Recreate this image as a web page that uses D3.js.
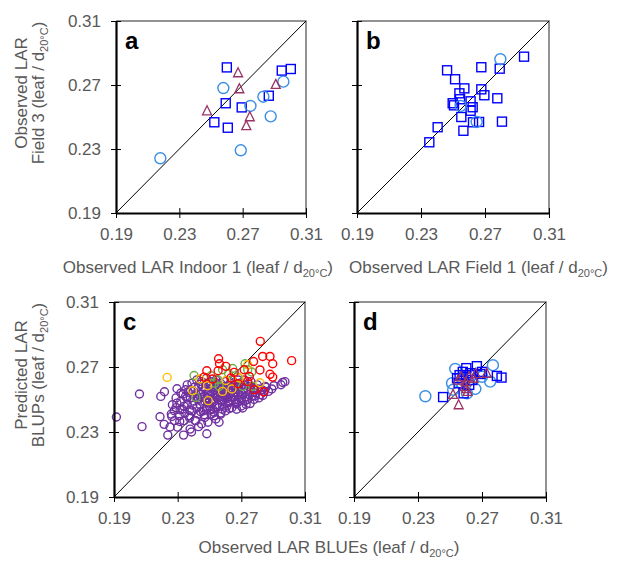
<!DOCTYPE html>
<html>
<head>
<meta charset="utf-8">
<script src="https://cdn.jsdelivr.net/npm/d3@7"></script>
<style>
  body { margin: 0; background: #fff; }
  svg { display: block; font-family: "Liberation Sans", Arial, sans-serif; }
</style>
</head>
<body>
<div id="chart"></div>
<script>
// valeurs : [x, y]
const tickValues = [0.19, 0.23, 0.27, 0.31];
const tickLabels = ["0.19", "0.23", "0.27", "0.31"];

// panneau a : Indoor 1 vs Field 3
const aSquares = [[0.260,0.281],[0.2947,0.279],[0.3004,0.280],[0.2593,0.2586],[0.2521,0.2467],[0.2606,0.2433],[0.2694,0.256],[0.2865,0.2633]];
const aCircles = [[0.2578,0.2681],[0.2957,0.2721],[0.2831,0.2627],[0.2749,0.2569],[0.2877,0.2504],[0.2688,0.2292],[0.218,0.2242]];
const aTriangles = [[0.2671,0.2777],[0.2679,0.2677],[0.2909,0.2704],[0.2475,0.2539],[0.2745,0.2502],[0.2723,0.2446]];

// panneau b : Field 1 vs Field 3
const bSquares = [[0.2463,0.2792],[0.2513,0.2736],[0.2677,0.2811],[0.2792,0.2802],[0.2944,0.2877],[0.2571,0.2679],[0.2540,0.2648],[0.2677,0.2673],[0.2696,0.2636],[0.2777,0.2617],[0.2544,0.2611],[0.2498,0.2586],[0.2506,0.2573],[0.2610,0.2598],[0.2623,0.2561],[0.2610,0.2539],[0.2552,0.2500],[0.2625,0.2467],[0.2663,0.2469],[0.2806,0.2471],[0.2404,0.2436],[0.2565,0.2414],[0.2352,0.2342]];
const bCircles = [[0.2796,0.2861],[0.2548,0.2569],[0.2648,0.2469]];

// panneau c : BLUEs vs BLUPs
const cPurple = [
  [0.1915,0.2392],[0.206,0.2534],[0.2076,0.2333],[0.2189,0.2394],[0.2194,0.2519],[0.2217,0.2548],[0.2215,0.2347],[0.2238,0.2281],
  [0.2252,0.2331],[0.2263,0.2396],[0.2278,0.2431],[0.2296,0.2566],[0.2313,0.2365],[0.2337,0.2281],[0.2378,0.2318],[0.2387,0.2300],
  [0.2431,0.2333],[0.2483,0.2289],[0.2375,0.2386],[0.2414,0.2370],[0.2315,0.2437],[0.2340,0.2458],[0.2295,0.2478],[0.2267,0.2468],
  [0.2334,0.2534],[0.2358,0.2509],[0.2960,0.2605],[0.2974,0.2610],[0.2949,0.2591],[0.2891,0.2565],[0.2844,0.2550],[0.2787,0.2523],
  [0.2708,0.2448],[0.2670,0.2472],[0.2529,0.2400],[0.2571,0.2417],[0.2466,0.2406],
  [0.238,0.256],[0.241,0.252],[0.243,0.258],[0.245,0.249],[0.246,0.255],[0.248,0.260],[0.249,0.251],[0.250,0.246],
  [0.251,0.257],[0.252,0.253],[0.253,0.249],[0.254,0.259],[0.255,0.254],[0.256,0.250],[0.257,0.256],[0.258,0.247],
  [0.259,0.253],[0.260,0.258],[0.261,0.251],[0.262,0.255],[0.263,0.249],[0.264,0.257],[0.265,0.252],[0.266,0.254],
  [0.267,0.248],[0.268,0.256],[0.269,0.251],[0.270,0.258],[0.271,0.253],[0.272,0.249],[0.273,0.255],[0.274,0.250],
  [0.276,0.256],[0.277,0.252],[0.279,0.254],[0.281,0.251],[0.244,0.253],[0.247,0.252],[0.250,0.255],[0.253,0.256],
  [0.256,0.257],[0.259,0.250],[0.262,0.252],[0.265,0.256],[0.268,0.253],[0.240,0.249],[0.242,0.245],[0.246,0.243],
  [0.249,0.248],[0.252,0.244],[0.255,0.247],[0.258,0.244],[0.261,0.246],[0.264,0.245],[0.267,0.244],[0.270,0.246],
  [0.273,0.247],[0.235,0.252],[0.236,0.247],[0.239,0.243],[0.243,0.241],[0.247,0.239],[0.251,0.241],[0.254,0.238],
  [0.257,0.241],[0.260,0.243],[0.232,0.249],[0.233,0.244],[0.237,0.240],[0.241,0.237],[0.245,0.235],[0.229,0.245],
  [0.231,0.240],[0.234,0.237],[0.228,0.237],[0.230,0.233],[0.226,0.241],[0.239,0.260],[0.242,0.262],[0.245,0.261],
  [0.248,0.263],[0.251,0.261],[0.254,0.262],[0.257,0.260],[0.260,0.261],[0.263,0.260],[0.266,0.259],[0.269,0.260],
  [0.272,0.259],[0.275,0.258],[0.278,0.257],[0.280,0.259],[0.283,0.256],[0.285,0.258],[0.287,0.255],[0.275,0.253],
  [0.278,0.250],[0.282,0.253],[0.235,0.256],[0.232,0.254],[0.229,0.251],[0.236,0.259],[0.244,0.247],[0.248,0.244],
  [0.262,0.248],[0.266,0.250],[0.270,0.250],[0.258,0.252],[0.255,0.251],[0.252,0.250],[0.249,0.254],[0.246,0.258],
  [0.243,0.250],[0.240,0.255],[0.238,0.251],[0.255,0.259],[0.260,0.256],[0.264,0.262],[0.268,0.262],[0.272,0.262],
  [0.276,0.261],[0.247,0.249],[0.257,0.254],[0.263,0.254],[0.253,0.242],[0.249,0.236],[0.256,0.236],
  [0.2405,0.2575],[0.2445,0.2595],[0.2475,0.2565],[0.2505,0.2585],[0.2535,0.2605],[0.2565,0.2585],[0.2595,0.2555],[0.2625,0.2585],
  [0.2655,0.2605],[0.2685,0.2585],[0.2715,0.2565],[0.2745,0.2595],[0.2775,0.2545],[0.2805,0.2565],[0.2835,0.2525],[0.2455,0.2515],
  [0.2485,0.2535],[0.2515,0.2475],[0.2545,0.2525],[0.2575,0.2495],[0.2605,0.2535],[0.2635,0.2515],[0.2665,0.2565],[0.2695,0.2545],
  [0.2725,0.2515],[0.2755,0.2475],[0.2365,0.2545],[0.2395,0.2465],[0.2425,0.2505],[0.2485,0.2455],[0.2545,0.2455],[0.2615,0.2485],
  [0.2375,0.2435],[0.2445,0.2425],[0.2505,0.2435],[0.2625,0.2445],[0.2345,0.2415],[0.2685,0.2495],[0.2855,0.2575],[0.2905,0.2585]
];
const cGreen = [[0.2403,0.2648],[0.2414,0.2513],[0.2509,0.2646],[0.2582,0.2683],[0.2645,0.2691],[0.2723,0.2720],[0.2740,0.2683],[0.2765,0.2669],[0.2551,0.2622],[0.2561,0.2581],[0.2677,0.2638],[0.2708,0.2581],[0.2771,0.2581],[0.2620,0.2660],[0.2530,0.2600]];
const cOrange = [[0.2234,0.2636],[0.2439,0.2626],[0.2488,0.2585],[0.2393,0.2554],[0.2492,0.2493],[0.2582,0.2550],[0.2603,0.2617],[0.2641,0.2565],[0.2740,0.2714],[0.2817,0.2603],[0.2687,0.2632]];
const cRed = [[0.2819,0.2858],[0.2834,0.2765],[0.2880,0.2765],[0.2897,0.2720],[0.3016,0.2739],[0.2557,0.2751],[0.2563,0.2720],[0.2483,0.2677],[0.2554,0.2677],[0.2777,0.2734],[0.2817,0.2682],[0.2880,0.2655],[0.2897,0.2638],[0.2634,0.2632],[0.2680,0.2597],[0.2740,0.2611],[0.2840,0.2546],[0.2781,0.2560],[0.2655,0.2667],[0.2718,0.2683],[0.2603,0.2704],[0.2466,0.2638],[0.2519,0.2626],[0.2750,0.2642]];

// panneau d : BLUEs vs BLUPs par environnement
const dCircles = [[0.2346,0.2520],[0.2533,0.2688],[0.2768,0.2711],[0.2751,0.2610],[0.2658,0.2565],[0.2513,0.2600],[0.2606,0.2538],[0.2520,0.2560],[0.2580,0.2620],[0.2640,0.2650],[0.2700,0.2640]];
const dSquares = [[0.2457,0.2515],[0.2668,0.2705],[0.2602,0.2693],[0.2793,0.2645],[0.2822,0.2635],[0.2544,0.2631],[0.2585,0.2538],[0.2627,0.2662],[0.2689,0.2657],[0.2554,0.2600],[0.2600,0.2650],[0.2640,0.2620],[0.2580,0.2670],[0.2620,0.2590],[0.2560,0.2650],[0.2700,0.2670]];
const dTriangles = [[0.2554,0.2468],[0.2730,0.2662],[0.2519,0.2532],[0.2602,0.2567],[0.2647,0.2631],[0.2600,0.2610],[0.2570,0.2640],[0.2620,0.2640],[0.2590,0.2580],[0.2660,0.2660],[0.2550,0.2620],[0.2610,0.2550]];

const width = 628, height = 561;
const grey = "#595959";
const colBlue = "#0000ff", colLight = "#3a8ee6", colTri = "#993366";
const colPurple = "#7030a0", colGreen = "#70ad47", colOrange = "#ffc000", colRed = "#ff0000";

const svg = d3.select("#chart").append("svg")
  .attr("width", width).attr("height", height);

// panneaux : position du cadre
const panels = [
  { key: "a", x0: 116, x1: 306, y0: 21, y1: 213, yLabels: true, series: [
    { data: aSquares, shape: "square", color: colBlue, size: 9 },
    { data: aCircles, shape: "circle", color: colLight, size: 5.5 },
    { data: aTriangles, shape: "triangle", color: colTri, size: 9 }] },
  { key: "b", x0: 357, x1: 549, y0: 21, y1: 213, yLabels: false, series: [
    { data: bSquares, shape: "square", color: colBlue, size: 9 },
    { data: bCircles, shape: "circle", color: colLight, size: 5.5 }] },
  { key: "c", x0: 114, x1: 305, y0: 302, y1: 497, yLabels: true, series: [
    { data: cPurple, shape: "circle", color: colPurple, size: 4 },
    { data: cGreen, shape: "circle", color: colGreen, size: 4 },
    { data: cOrange, shape: "circle", color: colOrange, size: 4 },
    { data: cRed, shape: "circle", color: colRed, size: 4 }] },
  { key: "d", x0: 354, x1: 546, y0: 302, y1: 497, yLabels: false, series: [
    { data: dCircles, shape: "circle", color: colLight, size: 5.5 },
    { data: dSquares, shape: "square", color: colBlue, size: 9 },
    { data: dTriangles, shape: "triangle", color: colTri, size: 9 }] }
];

panels.forEach(function (p) {
  const x = d3.scaleLinear().domain([0.19, 0.31]).range([p.x0, p.x1]);
  const y = d3.scaleLinear().domain([0.19, 0.31]).range([p.y1, p.y0]);
  const g = svg.append("g");

  // cadre haut / droite
  g.append("path")
    .attr("d", "M" + p.x0 + "," + p.y0 + "H" + p.x1 + "V" + p.y1)
    .attr("fill", "none").attr("stroke", "#6f6f6f").attr("stroke-width", 1.5);

  // droite 1:1
  g.append("line")
    .attr("x1", x(0.19)).attr("y1", y(0.19))
    .attr("x2", x(0.31)).attr("y2", y(0.31))
    .attr("stroke", "#000").attr("stroke-width", 1);

  // points
  p.series.forEach(function (s) {
    const sel = g.append("g").selectAll("path").data(s.data).enter();
    if (s.shape === "circle") {
      sel.append("circle")
        .attr("cx", d => x(d[0])).attr("cy", d => y(d[1]))
        .attr("r", s.size)
        .attr("fill", "none").attr("stroke", s.color).attr("stroke-width", 1.4);
    } else if (s.shape === "square") {
      sel.append("rect")
        .attr("x", d => x(d[0]) - s.size / 2).attr("y", d => y(d[1]) - s.size / 2)
        .attr("width", s.size).attr("height", s.size)
        .attr("fill", "none").attr("stroke", s.color).attr("stroke-width", 1.4);
    } else {
      const h = s.size;
      sel.append("path")
        .attr("d", function (d) {
          const cx = x(d[0]), cy = y(d[1]);
          return "M" + cx + "," + (cy - h * 0.55) + "L" + (cx + h / 2) + "," + (cy + h * 0.45) + "L" + (cx - h / 2) + "," + (cy + h * 0.45) + "Z";
        })
        .attr("fill", "none").attr("stroke", s.color).attr("stroke-width", 1.3);
    }
  });

  // axe Y
  const yAxis = g.append("g")
    .attr("transform", "translate(" + p.x0 + ",0)")
    .call(d3.axisLeft(y).tickValues(tickValues).tickSizeOuter(0)
      .tickFormat((d, i) => p.yLabels ? tickLabels[i] : ""));
  yAxis.select(".domain").attr("stroke", "#000").attr("stroke-width", 2.2);
  yAxis.selectAll(".tick line").attr("x1", -5).attr("x2", 5).attr("stroke", "#000").attr("stroke-width", 1);
  yAxis.selectAll(".tick text").attr("x", -15).attr("fill", grey)
    .style("font-size", "17px");

  // axe X
  const xAxis = g.append("g")
    .attr("transform", "translate(0," + p.y1 + ")")
    .call(d3.axisBottom(x).tickValues(tickValues).tickSizeOuter(0)
      .tickFormat((d, i) => tickLabels[i]));
  xAxis.select(".domain").attr("stroke", "#000").attr("stroke-width", 2.2);
  xAxis.selectAll(".tick line").attr("y1", -5).attr("y2", 5).attr("stroke", "#000").attr("stroke-width", 1);
  xAxis.selectAll(".tick text").attr("y", 15).attr("fill", grey)
    .style("font-size", "17px");

  // lettre du panneau
  g.append("text")
    .attr("x", p.x0 + 9).attr("y", p.y0 + 28)
    .attr("font-size", 24).attr("font-weight", "bold")
    .text(p.key);
});

// titre avec indice d20°C
function label(sel, before) {
  sel.append("tspan").text(before + "(leaf / d");
  sel.append("tspan").attr("font-size", 11).attr("dy", 4).text("20°C");
  sel.append("tspan").attr("dy", -4).text(")");
}

const titleStyle = t => t.attr("fill", grey).attr("font-size", 17);

// titres X
label(svg.append("text").call(titleStyle).attr("x", 333).attr("y", 273).attr("text-anchor", "end"), "Observed LAR Indoor 1 ");
label(svg.append("text").call(titleStyle).attr("x", 349).attr("y", 273).attr("text-anchor", "start"), "Observed LAR Field 1 ");
label(svg.append("text").call(titleStyle).attr("x", 329).attr("y", 553).attr("text-anchor", "middle"), "Observed LAR BLUEs ");

// titres Y (deux lignes)
function yTitle(cy, line1, line2) {
  svg.append("text").call(titleStyle)
    .attr("transform", "translate(27," + cy + ") rotate(-90)")
    .attr("text-anchor", "middle").text(line1);
  label(svg.append("text").call(titleStyle)
    .attr("transform", "translate(44," + cy + ") rotate(-90)")
    .attr("text-anchor", "middle"), line2);
}
yTitle(93, "Observed LAR", "Field 3 ");
yTitle(375, "Predicted LAR", "BLUPs ");
</script>
</body>
</html>
